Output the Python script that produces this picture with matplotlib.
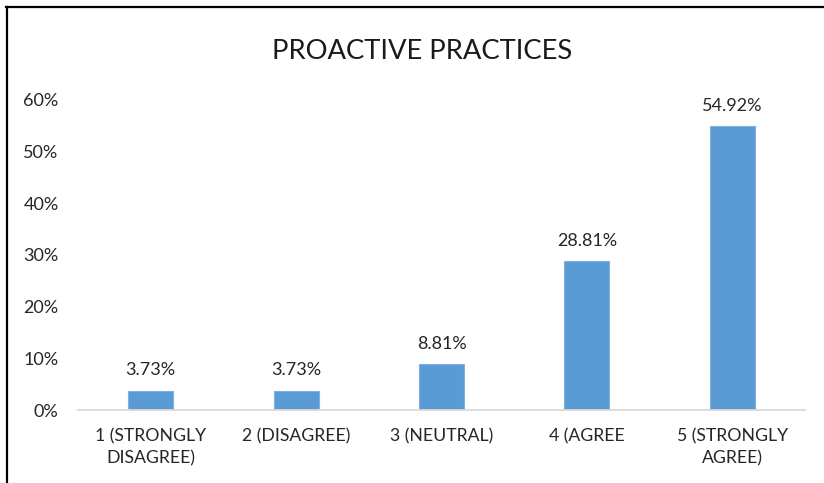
import matplotlib.pyplot as plt
from matplotlib.lines import Line2D
from matplotlib.ticker import PercentFormatter

# Survey responses
categories = ["1 (STRONGLY\nDISAGREE)", "2 (DISAGREE)", "3 (NEUTRAL)", "4 (AGREE", "5 (STRONGLY\nAGREE)"]
values = [3.73, 3.73, 8.81, 28.81, 54.92]
yticks = [0, 10, 20, 30, 40, 50, 60]

plt.rcParams['font.family'] = ['Lato', 'DejaVu Sans']

fig = plt.figure(figsize=(8.24, 4.83), dpi=100)
ax = fig.add_axes([0.0947, 0.1511, 0.8823, 0.6419])

x = range(len(values))
bars = ax.bar(x, values, width=0.31, color="#5B9BD5", edgecolor="#7FB2E0", linewidth=0.8, zorder=2)

for b, v in zip(bars, values):
    ax.annotate(f"{v:.2f}%", (b.get_x() + b.get_width() / 2, v),
                xytext=(0, 9), textcoords="offset points",
                ha="center", va="bottom", fontsize=13, color="#262626")

ax.set_xlim(-0.5, len(values) - 0.5)
ax.set_ylim(0, 60)
ax.set_yticks(yticks)
ax.yaxis.set_major_formatter(PercentFormatter(decimals=0))
ax.set_xticks(list(x))
ax.set_xticklabels(categories, fontsize=12.7, color="#262626", linespacing=1.45)
ax.tick_params(axis="y", labelsize=13, colors="#262626", length=0, pad=14)
ax.tick_params(axis="x", length=0, pad=13)

for s in ["top", "right", "left"]:
    ax.spines[s].set_visible(False)
ax.spines["bottom"].set_color("#D9D9D9")
ax.spines["bottom"].set_linewidth(1.3)

fig.text(0.512, 0.893, "PROACTIVE PRACTICES", ha="center", va="center", fontsize=19.7, color="#1a1a1a")

# border of the pasted chart (left and top edges only visible)
fig.add_artist(Line2D([6.5 / 824, 6.5 / 824], [0, 1 - 7 / 483], color="black", lw=1.6))
fig.add_artist(Line2D([6 / 824, 1], [1 - 7 / 483, 1 - 7 / 483], color="black", lw=1.6))

plt.savefig("out.png", dpi=100)
